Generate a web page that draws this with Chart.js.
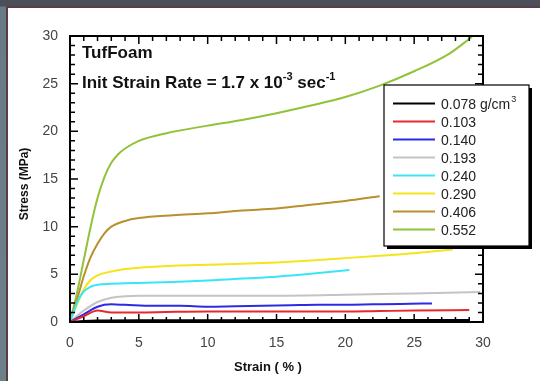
<!DOCTYPE html>
<html>
<head>
<meta charset="utf-8">
<script src="https://cdn.jsdelivr.net/npm/chart.js@4/dist/chart.umd.min.js"></script>
<style>
  html, body { margin: 0; padding: 0; }
  body {
    width: 540px; height: 381px; overflow: hidden; position: relative;
    background: linear-gradient(#4b4f59 0px, #4b4f59 6px, #687a84 7px, #6d7f89 381px);
  }
  #panel {
    position: absolute; left: 6px; top: 6px; width: 540px; height: 400px;
    background: #fff; border-left: 2px solid #5b3b46; border-top: 2px solid #5b3b46;
  }
  #wrap { position: absolute; left: 0; top: 0; width: 540px; height: 381px; }
</style>
</head>
<body>
<div id="panel"></div>
<div id="wrap"><canvas id="chart" width="540" height="381"></canvas></div>
<script>
// density labels (g/cm3)
const densities = ['0.078', '0.103', '0.140', '0.193', '0.240', '0.290', '0.406', '0.552'];
const colors = ['#000000', '#e8282c', '#2b2be6', '#c4c4c4', '#3ae6f6', '#f4e41a', '#b8902c', '#92c23a'];

// strain (%) / stress (MPa) per density
const strain078 = [0, 1, 2, 5, 10, 15, 20, 25, 29];
const stress078 = [0, 0.1, 0.15, 0.18, 0.18, 0.2, 0.2, 0.22, 0.22];

const strain103 = [0, 1, 2, 3, 5, 7, 10, 15, 20, 22.5, 25, 29];
const stress103 = [0, 0.6, 1.2, 1.0, 1.0, 1.05, 1.1, 1.1, 1.1, 1.15, 1.2, 1.25];

const strain140 = [0, 1, 2, 3, 4, 6, 8, 10, 12, 14, 16, 18, 20, 22, 24, 26.3];
const stress140 = [0, 0.8, 1.6, 1.85, 1.8, 1.7, 1.7, 1.6, 1.65, 1.7, 1.75, 1.8, 1.8, 1.85, 1.9, 1.95];

const strain193 = [0, 1, 2, 3, 4, 5, 10, 15, 20, 25, 29.8];
const stress193 = [0, 1.2, 2.1, 2.55, 2.7, 2.75, 2.75, 2.75, 2.85, 3.0, 3.15];

const strain240 = [0, 0.3, 0.6, 1, 1.5, 2, 3, 5, 7.5, 10, 12.5, 15, 17.5, 20.3];
const stress240 = [0, 1.2, 2.3, 3.2, 3.7, 3.9, 4.0, 4.1, 4.2, 4.35, 4.55, 4.75, 5.05, 5.45];

const strain290 = [0, 0.5, 1, 1.5, 2, 3, 4, 5, 7.5, 10, 12.5, 15, 17.5, 20, 22.5, 25, 27.8];
const stress290 = [0, 1.8, 3.4, 4.4, 4.9, 5.3, 5.55, 5.7, 5.9, 6.0, 6.1, 6.25, 6.45, 6.7, 6.95, 7.2, 7.6];

const strain406 = [0, 0.5, 1, 1.5, 2, 2.5, 3, 4, 5, 7.5, 10, 12.5, 15, 17.5, 20, 22.5];
const stress406 = [0, 2.3, 4.8, 6.8, 8.2, 9.3, 10.0, 10.6, 10.9, 11.2, 11.4, 11.7, 11.9, 12.3, 12.7, 13.2];

const strain552 = [0, 0.5, 1, 1.5, 2, 2.5, 3, 3.5, 4, 5, 7, 10, 12.5, 15, 17.5, 20, 22.5, 25, 27.5, 29.2];
const stress552 = [0, 3, 6.5, 10, 13, 15.2, 16.7, 17.6, 18.2, 19.0, 19.8, 20.6, 21.2, 21.9, 22.7, 23.6, 24.8, 26.3, 28.1, 29.9];

// axis ticks
const xTicks = [0, 5, 10, 15, 20, 25, 30];
const yTicks = [0, 5, 10, 15, 20, 25, 30];

const strains = [strain078, strain103, strain140, strain193, strain240, strain290, strain406, strain552];
const stresses = [stress078, stress103, stress140, stress193, stress240, stress290, stress406, stress552];

const datasets = densities.map((d, i) => ({
  label: i === 0 ? d + ' g/cm' : d,
  data: strains[i].map((x, j) => ({ x: x, y: stresses[i][j] })),
  borderColor: colors[i],
  borderWidth: 2,
  pointRadius: 0,
  cubicInterpolationMode: 'monotone',
  fill: false
}));

const FONT = '"Liberation Sans", Arial, sans-serif';

// box frame, inward ticks, annotations and legend
const decor = {
  id: 'decor',
  afterDatasetsDraw(chart) {
    const ctx = chart.ctx;
    const a = chart.chartArea;
    const xs = chart.scales.x, ys = chart.scales.y;
    ctx.save();
    ctx.strokeStyle = '#000';
    ctx.lineWidth = 1.5;
    for (let v = 0; v <= 30; v++) {
      const len = v % 5 === 0 ? 8 : 5;
      const px = xs.getPixelForValue(v);
      const py = ys.getPixelForValue(v);
      ctx.beginPath();
      ctx.moveTo(px, a.bottom); ctx.lineTo(px, a.bottom - len);
      ctx.moveTo(px, a.top); ctx.lineTo(px, a.top + len);
      ctx.moveTo(a.left, py); ctx.lineTo(a.left + len, py);
      ctx.moveTo(a.right, py); ctx.lineTo(a.right - len, py);
      ctx.stroke();
    }
    ctx.lineWidth = 2;
    ctx.strokeRect(a.left, a.top, a.right - a.left, a.bottom - a.top);

    // annotations
    ctx.fillStyle = '#111';
    ctx.textBaseline = 'alphabetic';
    ctx.font = 'bold 17px ' + FONT;
    ctx.fillText('TufFoam', 82, 58);
    let x = 82;
    const y = 88;
    const parts = [['Init Strain Rate = 1.7 x 10', false], ['-3', true], [' sec', false], ['-1', true]];
    parts.forEach(p => {
      ctx.font = (p[1] ? 'bold 11px ' : 'bold 17px ') + FONT;
      ctx.fillText(p[0], x, p[1] ? y - 8 : y);
      x += ctx.measureText(p[0]).width;
    });

    // axis titles
    ctx.font = 'bold 13px ' + FONT;
    ctx.textAlign = 'center';
    ctx.textBaseline = 'middle';
    ctx.fillText('Strain ( % )', 268, 367);
    ctx.save();
    ctx.translate(25, 184);
    ctx.rotate(-Math.PI / 2);
    ctx.font = 'bold 12px ' + FONT;
    ctx.fillText('Stress (MPa)', 0, 0);
    ctx.restore();

    // legend box with drop shadow
    const L = 384, T = 85, W = 145, H = 161;
    ctx.fillStyle = '#000';
    ctx.fillRect(L + 3, T + 3, W, H);
    ctx.fillStyle = '#fff';
    ctx.fillRect(L, T, W, H);
    ctx.lineWidth = 1.2;
    ctx.strokeStyle = '#000';
    ctx.strokeRect(L, T, W, H);
    ctx.textAlign = 'left';
    chart.data.datasets.forEach((ds, i) => {
      const ry = 103.5 + i * 18;
      ctx.strokeStyle = ds.borderColor;
      ctx.lineWidth = 2;
      ctx.beginPath();
      ctx.moveTo(393, ry); ctx.lineTo(435, ry);
      ctx.stroke();
      ctx.fillStyle = '#222';
      ctx.font = '14px ' + FONT;
      ctx.textBaseline = 'middle';
      ctx.fillText(ds.label, 441, ry + 1.5);
      if (i === 0) {
        const w = ctx.measureText(ds.label).width;
        ctx.font = '9px ' + FONT;
        ctx.fillText('3', 441 + w + 1, ry - 4);
      }
    });
    ctx.restore();
  }
};

new Chart(document.getElementById('chart'), {
  type: 'line',
  data: { datasets: datasets },
  options: {
    responsive: false,
    animation: false,
    layout: { padding: { top: 36, right: 57, left: 0, bottom: 0 } },
    plugins: { legend: { display: false }, tooltip: { enabled: false } },
    scales: {
      x: {
        type: 'linear', min: 0, max: 30,
        grid: { display: false, drawTicks: false },
        border: { display: false },
        afterBuildTicks: s => { s.ticks = xTicks.map(v => ({ value: v })); },
        afterFit: s => { s.height = 59; },
        ticks: { padding: 13, color: '#444', font: { family: FONT, size: 14 } }
      },
      y: {
        type: 'linear', min: 0, max: 30,
        grid: { display: false, drawTicks: false },
        border: { display: false },
        afterBuildTicks: s => { s.ticks = yTicks.map(v => ({ value: v })); },
        afterFit: s => { s.width = 70; },
        ticks: { padding: 12, color: '#444', font: { family: FONT, size: 14 } }
      }
    }
  },
  plugins: [decor]
});
</script>
</body>
</html>
